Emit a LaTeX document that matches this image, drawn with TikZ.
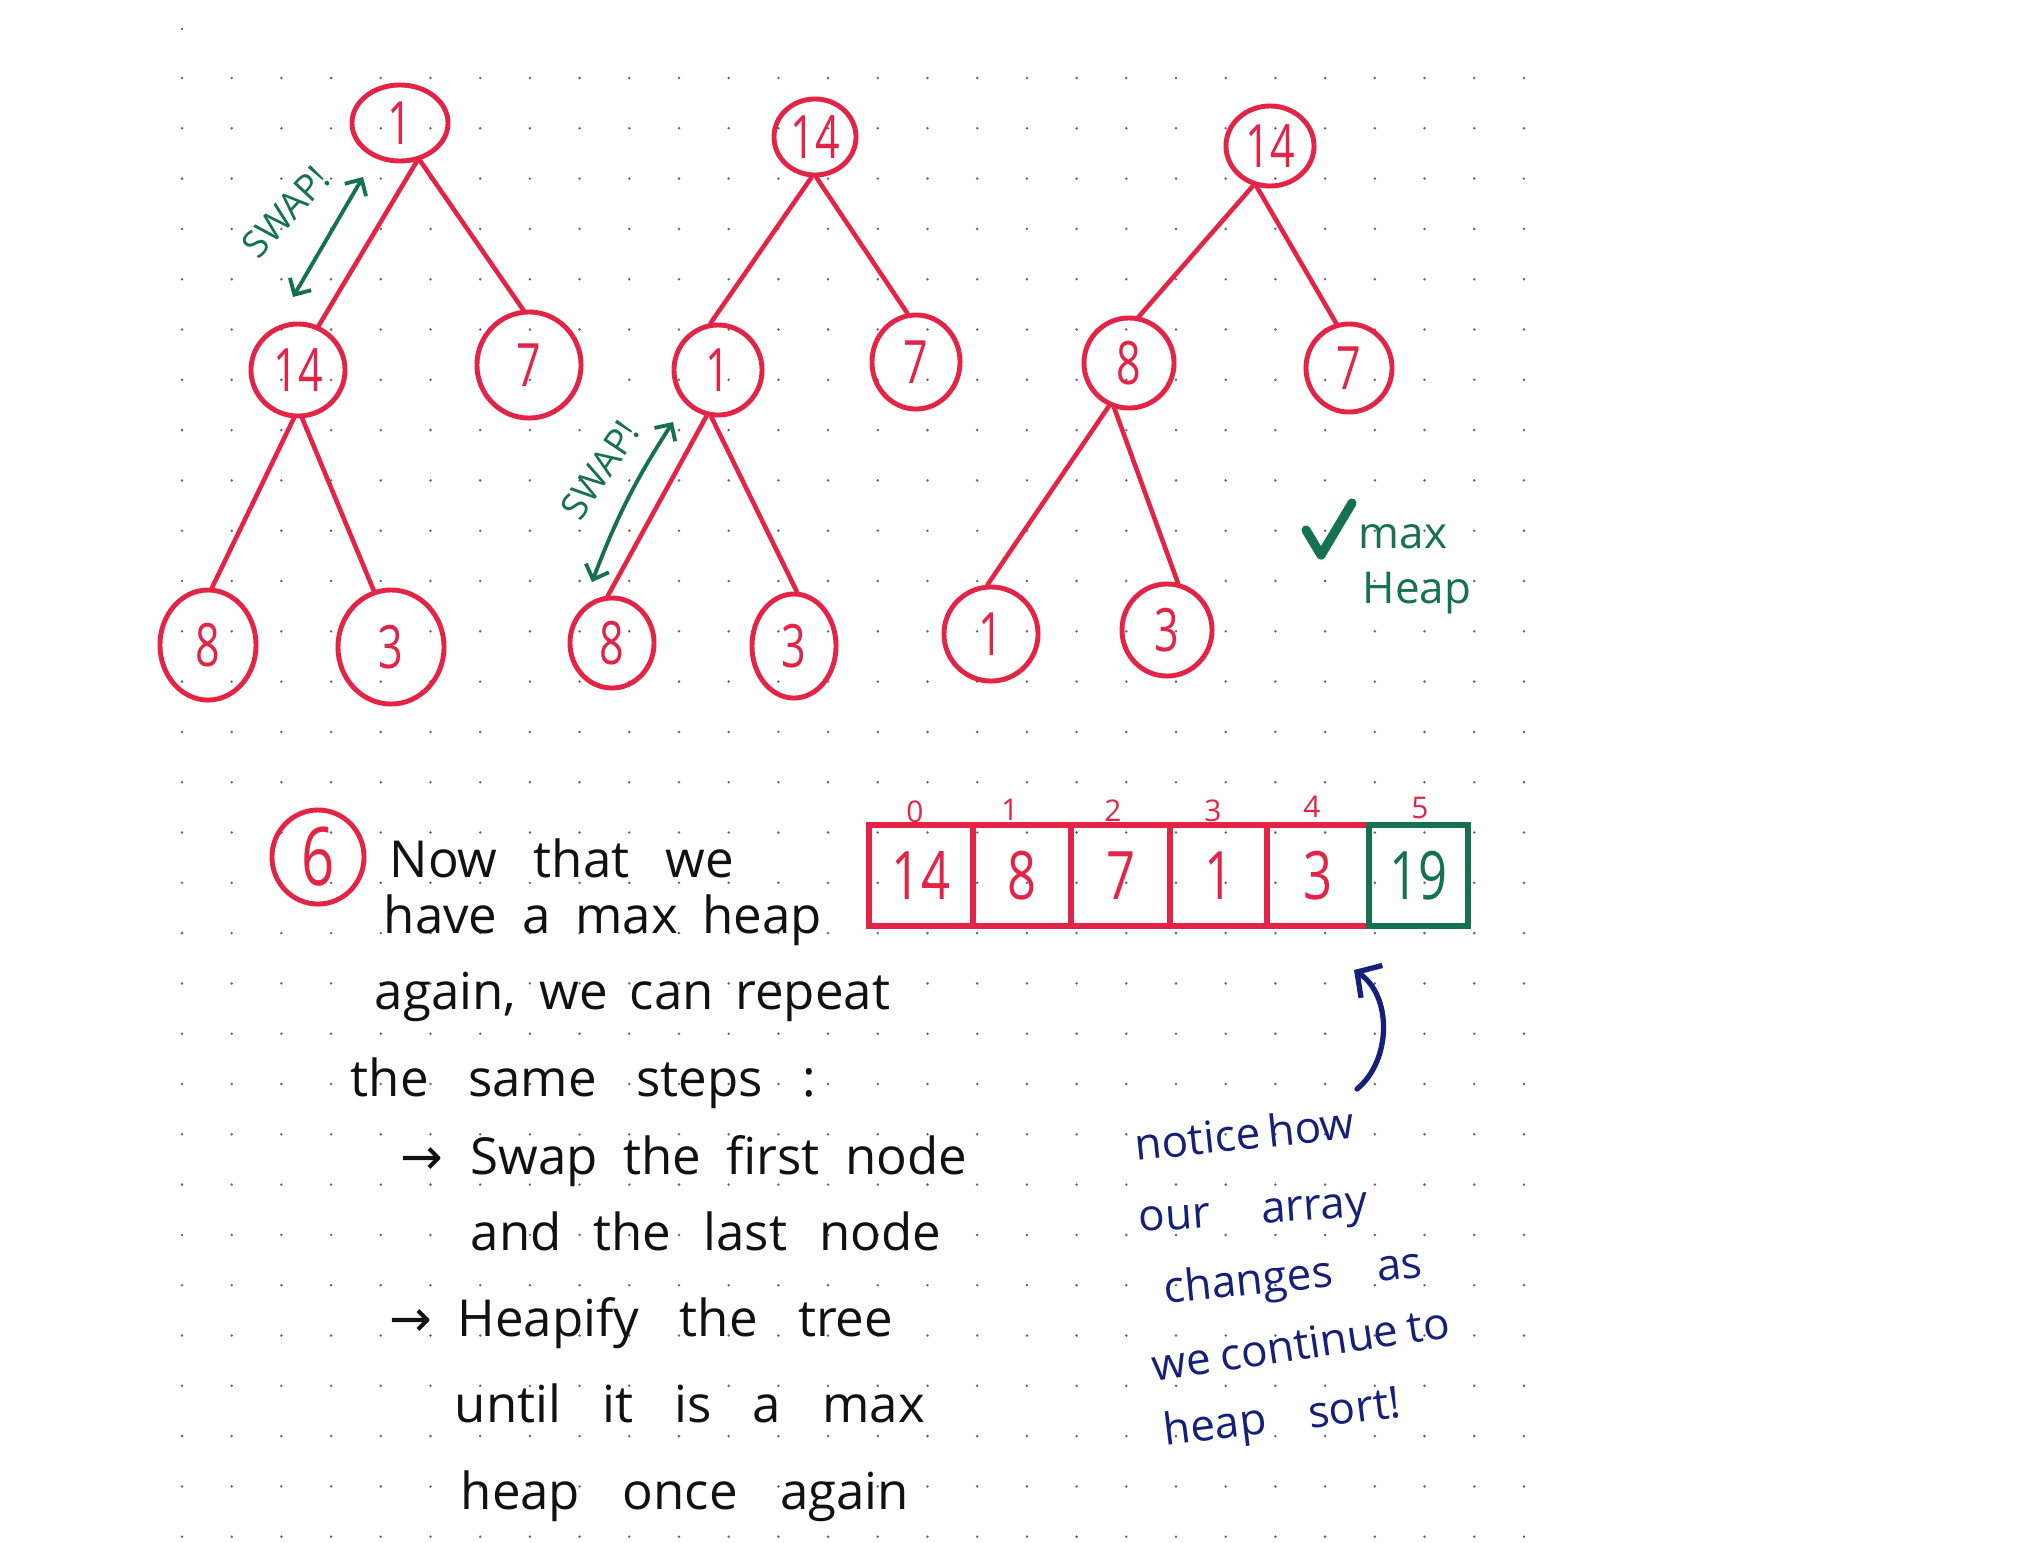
\documentclass[tikz,border=0pt]{standalone}
\usepackage{fontspec}
\usepackage{graphicx}
\setmainfont{Open Sans}
\newfontfamily\arw{DejaVu Sans}
\usetikzlibrary{shapes.geometric,arrows.meta}
\definecolor{inkred}{RGB}{228,36,70}
\definecolor{inkgreen}{RGB}{22,112,82}
\definecolor{inkblue}{RGB}{22,32,120}
\definecolor{inkblack}{RGB}{17,17,17}
\definecolor{dotc}{RGB}{105,105,105}
% tall, narrow digits centred in a node without widening it
\newcommand{\zw}[1]{\makebox[0pt]{\scalebox{0.72}[1]{#1}}}
\newcommand{\nv}[1]{\scalebox{0.76}[1]{#1}}
\begin{document}
\begin{tikzpicture}[x=0.01cm,y=-0.01cm,
  sz/.style 2 args={minimum width=#1*0.02cm, minimum height=#2*0.02cm},
  hn/.style={ellipse, draw=inkred, line width=1.4pt, inner sep=0pt, text=inkred,
             font=\fontsize{17}{17}\selectfont},
  edge/.style={draw=inkred, line width=1.3pt, line cap=round},
  swap/.style={draw=inkgreen, line width=1.1pt, line cap=round,
               {Straight Barb[length=3.5pt,width=7pt]}-{Straight Barb[length=3.5pt,width=7pt]}},
  swaptext/.style={text=inkgreen, inner sep=0pt, font=\fontsize{10.5}{11}\selectfont},
  cell/.style={rectangle, draw=inkred, line width=1.8pt, inner sep=0pt, text=inkred,
               minimum height=1.01cm, font=\fontsize{19}{19}\selectfont},
  idx/.style={text=inkred, inner sep=0pt, font=\fontsize{8.5}{9}\selectfont},
  btxt/.style={anchor=base west, inner sep=0pt, text=inkblack, font=\fontsize{14.5}{17}\selectfont},
  ntxt/.style={anchor=base west, inner sep=0pt, text=inkblue, font=\fontsize{12.5}{15}\selectfont},
  gtxt/.style={anchor=base west, inner sep=0pt, text=inkgreen, font=\fontsize{12.5}{15}\selectfont},
]
% page and dot grid
\useasboundingbox[fill=white] (0,0) rectangle (2034,1542);
\fill[dotc] (182,29) circle[radius=0.4pt];
\foreach \i in {0,...,27}{
  \foreach \j in {0,...,29}{
    \fill[dotc] ({182+\i*49.7},{78+\j*50.3}) circle[radius=0.4pt];
  }
}

% first tree: 1 at the root
\node[hn, sz={48}{38}] (t1r) at (400,123) {\zw{1}};
\node[hn, sz={47}{46}] (t1a) at (298,370) {\zw{14}};
\node[hn, sz={52}{53}] (t1b) at (529,365) {\zw{7}};
\node[hn, sz={48}{55}] (t1c) at (208,645) {\zw{8}};
\node[hn, sz={53}{57}] (t1d) at (391,647) {\zw{3}};
\draw[edge] (t1r.-66) -- (t1a.65);
\draw[edge] (t1r.-62) -- (t1b.96);
\draw[edge] (t1a.-95) -- (t1c.86);
\draw[edge] (t1a.-85) -- (t1d.107);
\coordinate (s1a) at (293,297);
\coordinate (s1b) at (363,177);
\draw[swap] (s1a) -- (s1b);
\node[swaptext, rotate=47] (s1t) at (286,212) {SWAP!};

% second tree: 14 moved up
\node[hn, sz={41}{38}] (t2r) at (815,137) {\zw{14}};
\node[hn, sz={44}{45}] (t2a) at (718,370) {\zw{1}};
\node[hn, sz={44}{47}] (t2b) at (916,362) {\zw{7}};
\node[hn, sz={42}{45}] (t2c) at (612,643) {\zw{8}};
\node[hn, sz={42}{52}] (t2d) at (794,646) {\zw{3}};
\draw[edge] (t2r.-95) -- (t2a.99);
\draw[edge] (t2r.-88) -- (t2b.100);
\draw[edge] (t2a.-104) -- (t2c.95);
\draw[edge] (t2a.-98) -- (t2d.87);
\coordinate (s2a) at (592,582);
\coordinate (s2b) at (673,422);
\draw[swap] (s2a) to[bend left=6] (s2b);
\node[swaptext, rotate=56] (s2t) at (600,470) {SWAP!};

% third tree: the max heap
\node[hn, sz={44}{40}] (t3r) at (1270,146) {\zw{14}};
\node[hn, sz={45}{45}] (t3a) at (1129,363) {\zw{8}};
\node[hn, sz={43}{44}] (t3b) at (1349,368) {\zw{7}};
\node[hn, sz={47}{47}] (t3c) at (991,634) {\zw{1}};
\node[hn, sz={45}{46}] (t3d) at (1167,630) {\zw{3}};
\draw[edge] (t3r.-113) -- (t3a.78);
\draw[edge] (t3r.-108) -- (t3b.106);
\draw[edge] (t3a.-115) -- (t3c.94);
\draw[edge] (t3a.-108) -- (t3d.77);

% check mark and caption
\draw[inkgreen, line width=2.6pt, line cap=round, line join=round]
  (1306,530) -- (1321,555) -- (1352,503);
\node[gtxt] (mx) at (1358,548) {max};
\node[gtxt] (hp) at (1362,603) {Heap};

% step number
\node[hn, sz={46}{47}, font=\fontsize{23}{23}\selectfont] (six) at (318,857) {\zw{6}};

% array after the swap
\node[cell, minimum width=1.04cm] (c0) at (921,875.5) {\nv{14}};
\node[cell, minimum width=0.98cm] (c1) at (1022,875.5) {\nv{8}};
\node[cell, minimum width=0.99cm] (c2) at (1120.5,875.5) {\nv{7}};
\node[cell, minimum width=0.97cm] (c3) at (1218.5,875.5) {\nv{1}};
\node[cell, minimum width=1.02cm] (c4) at (1318,875.5) {\nv{3}};
\node[cell, minimum width=0.99cm, draw=inkgreen, text=inkgreen] (c5) at (1418.5,875.5) {\nv{19}};
\node[idx] (i0) at (915,812) {0};
\node[idx] (i1) at (1010,810) {1};
\node[idx] (i2) at (1113,811) {2};
\node[idx] (i3) at (1213,811) {3};
\node[idx] (i4) at (1312,807) {4};
\node[idx] (i5) at (1420,808) {5};

% explanation
\node[btxt] (l1) at (389,877) {\makebox[3.44cm][s]{Now that we}};
\node[btxt] (l2) at (383,933) {\makebox[4.38cm][s]{have a max heap}};
\node[btxt] (l3) at (374,1009) {\makebox[5.15cm][s]{again, we can repeat}};
\node[btxt] (l4) at (350,1096) {\makebox[4.65cm][s]{the same steps :}};
\node[btxt] (l5) at (400,1174) {\makebox[0.70cm][l]{\arw →}\makebox[4.96cm][s]{Swap the first node}};
\node[btxt] (l6) at (470,1250) {\makebox[4.70cm][s]{and the last node}};
\node[btxt] (l7) at (389,1336) {\makebox[0.68cm][l]{\arw →}\makebox[4.35cm][s]{Heapify the tree}};
\node[btxt] (l8) at (454,1422) {\makebox[4.70cm][s]{until it is a max}};
\node[btxt] (l9) at (460,1509) {\makebox[4.48cm][s]{heap once again}};

% side note with its arrow
\node[ntxt, rotate=6] (n1) at (1136,1161) {\makebox[2.14cm][s]{notice how}};
\node[ntxt, rotate=4] (n2) at (1139,1232) {\makebox[2.29cm][s]{our array}};
\node[ntxt, rotate=6] (n3) at (1165,1304) {\makebox[2.59cm][s]{changes as}};
\node[ntxt, rotate=8.5] (n4) at (1154,1382) {\makebox[3.00cm][s]{we continue to}};
\node[ntxt, rotate=7] (n5) at (1165,1446) {\makebox[2.38cm][s]{heap sort!}};
\coordinate (nb) at (1357,1089);
\coordinate (nt) at (1354,970);
\draw[inkblue, line width=1.5pt, line cap=round, -{Straight Barb[length=5pt,width=11pt]}]
  (nb) .. controls (1392,1060) and (1392,995) .. (nt);
\end{tikzpicture}
\end{document}
